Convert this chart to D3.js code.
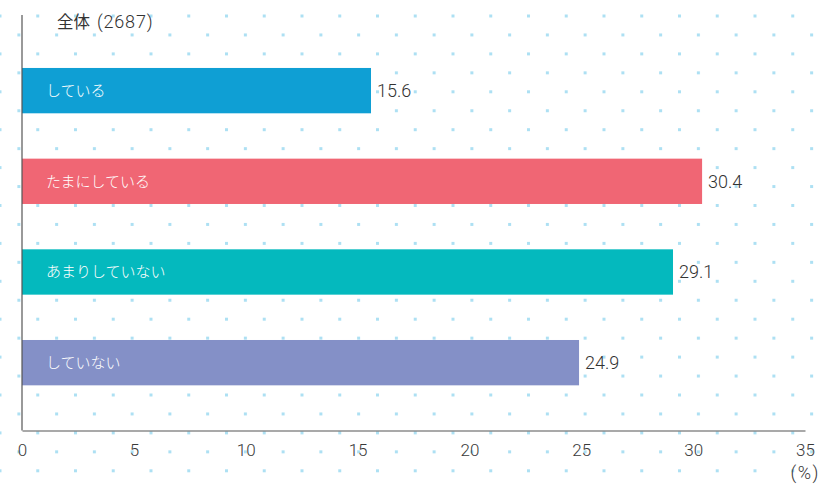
<!DOCTYPE html>
<html><head><meta charset="utf-8">
<script src="https://cdn.jsdelivr.net/npm/d3@7/dist/d3.min.js"></script>
<style>
html,body{margin:0;padding:0;background:#fff;}
svg{display:block;}
</style></head>
<body>
<script>
const categories = ["している", "たまにしている", "あまりしていない", "していない"];
const values = [15.6, 30.4, 29.1, 24.9];
const colors = ["#0f9fd4", "#f06674", "#04b9be", "#8490c7"];
const xTicks = [0, 5, 10, 15, 20, 25, 30, 35];
const groupName = "全体";
const groupCount = "(2687)";
const unitLabel = "(%)";

const W = 821, H = 484;
const svg = d3.select("body").append("svg").attr("width", W).attr("height", H);

// dotted background pattern
const defs = svg.append("defs");
const pat = defs.append("pattern").attr("id", "dots").attr("patternUnits", "userSpaceOnUse")
  .attr("width", 37.75).attr("height", 37.9).attr("x", -1.5).attr("y", 14.5);
pat.append("rect").attr("x", 0).attr("y", 0).attr("width", 3).attr("height", 3).attr("fill", "#ade0f3");
pat.append("rect").attr("x", 18.9).attr("y", 18.95).attr("width", 3).attr("height", 3).attr("fill", "#ade0f3");
svg.append("rect").attr("width", W).attr("height", H).attr("fill", "url(#dots)");

const x = d3.scaleLinear().domain([0, 35]).range([22, 805]);
const y = d3.scaleBand().domain(categories).range([45.3, 408]).paddingInner(0.5).paddingOuter(0.25);

const g = svg.append("g");
g.selectAll("rect.bar").data(categories).join("rect").attr("class", "bar")
  .attr("x", x(0)).attr("y", d => y(d))
  .attr("width", (d, i) => x(values[i]) - x(0))
  .attr("height", y.bandwidth())
  .attr("fill", (d, i) => colors[i]);

g.selectAll("text.cat").data(categories).join("text").attr("class", "cat")
  .attr("x", x(0) + 24).attr("y", d => y(d) + y.bandwidth() / 2)
  .attr("dy", "0.36em")
  .attr("fill", "#fff")
  .style("font-family", "'Noto Sans CJK JP', sans-serif")
  .style("font-size", "15px")
  .style("font-weight", "300")
  .text(d => d);

g.selectAll("text.val").data(categories).join("text").attr("class", "val")
  .attr("x", (d, i) => x(values[i]) + 6).attr("y", d => y(d) + y.bandwidth() / 2)
  .attr("dy", "0.36em")
  .attr("fill", "#333")
  .style("font-family", "Roboto, sans-serif")
  .style("font-size", "18px")
  .style("font-weight", "300")
  .text((d, i) => values[i].toFixed(1));

// axes
const xAxis = d3.axisBottom(x).tickValues(xTicks).tickSize(0).tickPadding(13).tickFormat(d3.format("d"));
const ax = svg.append("g").attr("transform", "translate(0,430.5)").call(xAxis);
ax.select(".domain").attr("stroke", "#555").attr("stroke-width", 1.2);
ax.selectAll("text").attr("fill", "#3a3a3a").style("font-family", "Roboto, sans-serif")
  .style("font-size", "17px").style("font-weight", "300");

const yAxis = d3.axisLeft(y).tickSize(0).tickFormat("").tickSizeOuter(0);
const ay = svg.append("g").attr("transform", "translate(22,0)").call(yAxis);
ay.select(".domain").attr("d", "M0,15V430.5").attr("stroke", "#555").attr("stroke-width", 1.2);

const head = svg.append("text").attr("x", 57).attr("y", 22).attr("dy", "0.36em")
  .attr("fill", "#333");
head.append("tspan").style("font-family", "'Noto Sans CJK JP', sans-serif").style("font-size", "16.5px")
  .text(groupName);
head.append("tspan").attr("dx", 7).style("font-family", "Roboto, sans-serif").style("font-size", "18px")
  .style("font-weight", "300").style("letter-spacing", "0.8px").text(groupCount);

svg.append("text").attr("x", 820).attr("y", 473).attr("dy", "0.36em").attr("text-anchor", "end")
  .attr("fill", "#3a3a3a").style("font-family", "Roboto, sans-serif").style("font-size", "18px")
  .style("font-weight", "300").style("letter-spacing", "1.5px")
  .text(unitLabel);
</script>
</body></html>
